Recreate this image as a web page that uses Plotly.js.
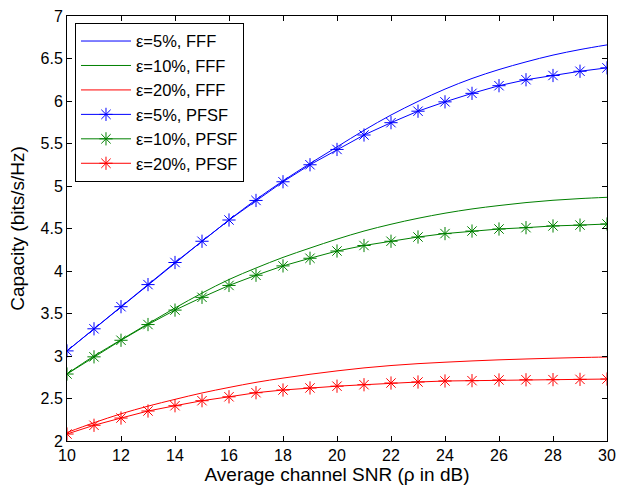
<!DOCTYPE html>
<html>
<head>
<meta charset="utf-8">
<script src="https://cdn.plot.ly/plotly-3.0.1.min.js"></script>
<style>html,body{margin:0;padding:0;background:#fff;}#chart{width:626px;height:486px;}</style>
</head>
<body>
<div id="chart"></div>
<script>
const snr = [10,11,12,13,14,15,16,17,18,19,20,21,22,23,24,25,26,27,28,29,30];

const fff5  = [3.06,3.32,3.58,3.84,4.10,4.35,4.60,4.84,5.06,5.265,5.46,5.655,5.835,5.995,6.14,6.265,6.37,6.46,6.54,6.605,6.66];
const fff10 = [2.79,3.00,3.19,3.38,3.565,3.74,3.90,4.035,4.16,4.27,4.375,4.47,4.55,4.62,4.68,4.73,4.77,4.805,4.832,4.852,4.867];
const fff20 = [2.10,2.215,2.32,2.41,2.49,2.565,2.63,2.69,2.74,2.785,2.825,2.86,2.888,2.91,2.927,2.942,2.955,2.965,2.974,2.982,2.988];

const pfsf5  = [3.06,3.32,3.58,3.84,4.10,4.35,4.60,4.83,5.05,5.25,5.43,5.60,5.745,5.88,5.99,6.09,6.18,6.25,6.30,6.35,6.39];
const pfsf10 = [2.788,2.99,3.185,3.37,3.54,3.69,3.83,3.95,4.06,4.15,4.235,4.30,4.35,4.40,4.44,4.47,4.494,4.51,4.53,4.54,4.553];
const pfsf20 = [2.082,2.185,2.27,2.353,2.415,2.474,2.52,2.568,2.60,2.624,2.645,2.662,2.682,2.694,2.706,2.71,2.718,2.72,2.722,2.725,2.729];

const names = ['ε=5%, FFF','ε=10%, FFF','ε=20%, FFF','ε=5%, PFSF','ε=10%, PFSF','ε=20%, PFSF'];
const colors = ['#0000ff','#008000','#ff0000'];
const yTicks = [2,2.5,3,3.5,4,4.5,5,5.5,6,6.5,7];
const xTicks = [10,12,14,16,18,20,22,24,26,28,30];

const series = [fff5,fff10,fff20,pfsf5,pfsf10,pfsf20];
const traces = series.map((ys,i)=>{
  const c = colors[i%3];
  const t = {
    x: snr, y: ys, name: names[i], type:'scatter',
    mode: 'lines',
    legendgroup: 'g'+i,
    line: {color:c, width:1, shape:'spline', smoothing:1}
  };
  if (i>=3) {
    t.mode = 'lines+markers';
    t.line = {color:c, width:1};
    t.marker = {symbol:'asterisk-open', size:11, color:c, line:{color:c, width:1}};
  }
  return t;
});

const font = {family:'Liberation Sans, Arial, Helvetica, sans-serif', color:'#000'};
const layout = {
  width:626, height:486,
  margin:{l:67, r:19, t:16, b:45},
  paper_bgcolor:'#fff', plot_bgcolor:'#fff',
  font: Object.assign({size:16}, font),
  showlegend:true,
  legend:{x:0.0148, y:0.984, xanchor:'left', yanchor:'top',
          bgcolor:'#fff', bordercolor:'#000', borderwidth:1,
          font:Object.assign({size:16.5}, font), tracegroupgap:0, itemwidth:50},
  xaxis:{range:[10,30], tickvals:xTicks, ticktext:xTicks.map(String),
         ticks:'inside', ticklen:5, tickcolor:'#000', showline:true, linecolor:'#000', linewidth:1,
         mirror:'ticks', showgrid:false, zeroline:false,
         tickfont:Object.assign({size:16}, font),
         title:{text:'Average channel SNR (ρ in dB)', font:Object.assign({size:19}, font), standoff:2}},
  yaxis:{range:[2,7], tickvals:yTicks, ticktext:yTicks.map(String),
         ticks:'inside', ticklen:5, tickcolor:'#000', showline:true, linecolor:'#000', linewidth:1,
         mirror:'ticks', showgrid:false, zeroline:false,
         tickfont:Object.assign({size:16}, font),
         title:{text:'Capacity (bits/s/Hz)', font:Object.assign({size:19}, font), standoff:10}}
};

Plotly.newPlot('chart', traces, layout, {displayModeBar:false, staticPlot:true});
</script>
</body>
</html>
